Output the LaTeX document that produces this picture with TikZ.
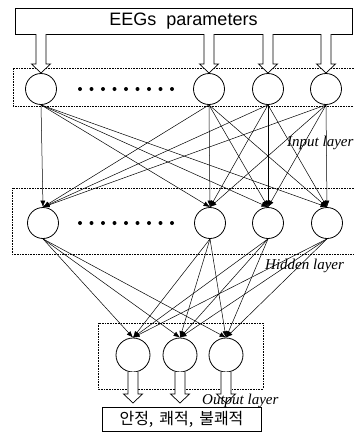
\documentclass[tikz,border=0pt]{standalone}
\usepackage{fontspec}
\newfontfamily\labfont{Liberation Serif}
\newfontfamily\boxfont{Liberation Sans}
\newfontfamily\kofont{Noto Sans CJK KR}
\usetikzlibrary{arrows.meta}
\newcommand{\blockarr}[3]{%
  \draw[blk] (#1-5,#2) -- (#1-5,#3-9) -- (#1-9.5,#3-9) -- (#1,#3) -- (#1+9.5,#3-9) -- (#1+5,#3-9) -- (#1+5,#2);
}
\begin{document}
\begin{tikzpicture}[x=1pt,y=-1pt,
  neuron/.style={circle,draw,line width=0.8pt,minimum size=31pt,inner sep=0pt,fill=white},
  oneuron/.style={neuron,minimum size=34pt},
  conn/.style={line width=0.5pt,-{Latex[length=6.5pt,width=5pt]}},
  layerbox/.style={densely dotted,line width=0.6pt},
  blk/.style={line width=0.7pt,fill=white},
  lab/.style={font=\labfont\itshape\fontsize{15}{15}\selectfont,inner sep=0pt,anchor=west}]
\useasboundingbox (0,0) rectangle (354,432);

% layer boxes
\draw[layerbox] (354,68) -- (13,68) -- (13,106) -- (354,106);
\draw[layerbox] (354,188) -- (12,188) -- (12,254) -- (354,254);
\draw[layerbox] (98,323) rectangle (263,389);

% top box
\node[draw,line width=0.8pt,minimum width=337pt,minimum height=26pt,inner sep=0pt,
      font=\boxfont\fontsize{18}{18}\selectfont] (top) at (183.5,21) {EEGs\ \ parameters};

% neurons
\node[neuron] (I1) at (41,89) {};
\node[neuron] (I2) at (209,89) {};
\node[neuron] (I3) at (268,89) {};
\node[neuron] (I4) at (326,89) {};
\node[neuron] (H1) at (43,223) {};
\node[neuron] (H2) at (210,223) {};
\node[neuron] (H3) at (268,223) {};
\node[neuron] (H4) at (327,223) {};
\node[oneuron] (O1) at (133,355) {};
\node[oneuron] (O2) at (180,355) {};
\node[oneuron] (O3) at (226,355) {};

% dots
\foreach \k in {0,...,8} {
  \fill (80+\k*11.5,89) circle (2pt);
  \fill (80+\k*11.5,223) circle (2pt);
}

% connections
\foreach \i in {1,...,4} {
  \foreach \j in {1,...,4} { \draw[conn] (I\i.south) -- (H\j.north); }
  \foreach \j in {1,...,3} { \draw[conn] (H\i.south) -- (O\j.north); }
}

% block arrows
\blockarr{41}{34}{73}
\blockarr{209}{34}{73}
\blockarr{268}{34}{73}
\blockarr{326}{34}{73}
\blockarr{133}{372}{403}
\blockarr{180}{372}{403}
\blockarr{226}{372}{403}

% result box
\node[draw,line width=0.8pt,minimum width=159pt,minimum height=24pt,inner sep=0pt,
      font=\kofont\fontsize{16}{16}\selectfont] (res) at (181.5,419) {안정,\hspace{6pt}쾌적,\hspace{6pt}불쾌적};

% labels
\node[lab] (inlab) at (287,143) {Input layer};
\node[lab] (hidlab) at (265,266) {Hidden layer};
\node[lab] (outlab) at (202,401) {Output layer};
\end{tikzpicture}
\end{document}
